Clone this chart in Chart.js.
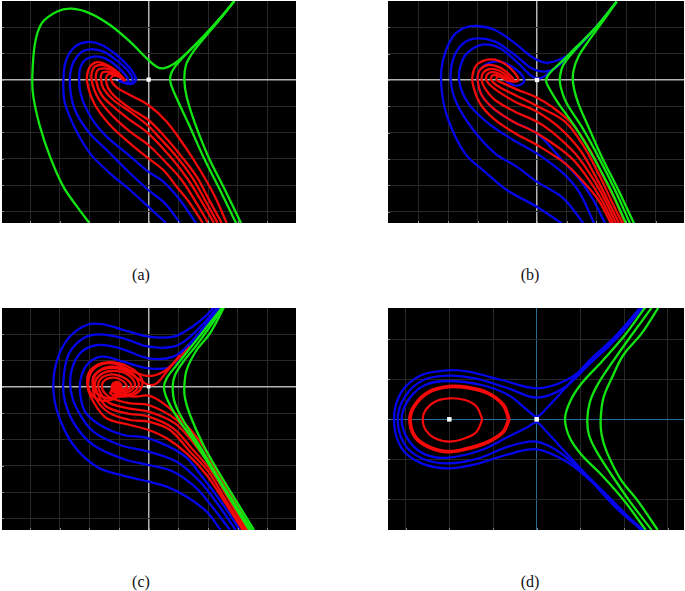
<!DOCTYPE html>
<html>
<head>
<meta charset="utf-8">
<title>Phase portraits</title>
<script src="https://cdn.jsdelivr.net/npm/chart.js@4/dist/chart.umd.min.js"></script>
<style>
    html, body { margin: 0; padding: 0; background: #fff; }
    .panel { position: absolute; filter: blur(0.5px); }
    .caption { position: absolute; width: 60px; text-align: center; font: 16px "Liberation Serif", serif; color: #111; }
</style>
</head>
<body>
<canvas id="panelA" class="panel" style="left:2px;top:1px" width="294" height="222"></canvas>
<canvas id="panelB" class="panel" style="left:388px;top:1px" width="296" height="222"></canvas>
<canvas id="panelC" class="panel" style="left:2px;top:308px" width="294" height="222"></canvas>
<canvas id="panelD" class="panel" style="left:388px;top:308px" width="296" height="222"></canvas>
<div class="caption" style="left:111px;top:266px">(a)</div>
<div class="caption" style="left:500px;top:266px">(b)</div>
<div class="caption" style="left:111px;top:573px">(c)</div>
<div class="caption" style="left:500px;top:573px">(d)</div>
<script>
// grid values, the saddle point is the origin of every panel
const stepTicksX = [-356, -267, -178, -89, 0, 89, 178, 267, 356];
const stepTicksY = [-395, -316, -237, -158, -79, 0, 79, 158];
const dTicksX = [-393, -262, -131, 0, 131, 262, 393];
const dTicksY = [-240, -120, 0, 120, 240];

// panel (a)
const aGreen = [
    [[-178,-430],[-211,-386],[-256,-321],[-296,-231],[-326,-141],[-346,-51],[-349,9],[-341,109],[-321,169],[-276,204],[-231,213],[-176,199],[-116,164],[-56,114],[-6,64],[24,39],[44,34],[74,46],[114,79],[164,129],[214,184],[257,236]],
    [[262,-430],[214,-331],[164,-231],[119,-131],[84,-56],[66,-11],[66,14],[79,39],[114,79],[164,129],[214,184],[257,236]],
    [[277,-430],[229,-331],[179,-231],[139,-131],[114,-51],[107,-1],[112,44],[134,84],[174,134],[219,187],[257,236]]
];
const aRed = [
    [[162,-430],[124,-371],[84,-321],[44,-271],[-1,-236],[-56,-191],[-116,-136],[-161,-76],[-184,-11],[-181,29],[-161,51],[-136,49],[-101,29],[-71,-1]],
    [[179,-430],[144,-371],[99,-301],[54,-251],[-1,-196],[-56,-156],[-106,-111],[-151,-56],[-171,-1],[-166,34],[-146,44],[-121,39],[-91,19],[-71,-3]],
    [[196,-430],[159,-366],[119,-301],[69,-236],[-1,-161],[-56,-121],[-106,-81],[-141,-46],[-158,-1],[-154,27],[-136,34],[-111,29],[-86,11],[-71,-3]],
    [[207,-430],[169,-361],[129,-291],[84,-231],[34,-176],[-1,-139],[-56,-96],[-106,-61],[-136,-26],[-143,-1],[-141,19],[-126,24],[-101,19],[-81,7],[-71,-3]],
    [[219,-430],[179,-356],[144,-291],[99,-231],[44,-166],[-1,-121],[-56,-86],[-101,-51],[-121,-26],[-128,-1],[-124,14],[-111,17],[-91,11],[-71,-3]],
    [[234,-430],[199,-351],[154,-271],[109,-201],[54,-126],[-1,-76],[-56,-46],[-96,-23],[-113,-1],[-108,11],[-96,11],[-81,4],[-71,-4]]
];
const aBlue = [
    [[52,-430],[-1,-381],[-56,-331],[-116,-281],[-176,-221],[-221,-146],[-251,-71],[-256,-11],[-249,54],[-221,99],[-181,113],[-141,104],[-96,74],[-56,34],[-38,1],[-51,-13],[-76,-9],[-94,-1]],
    [[94,-430],[49,-371],[-1,-331],[-66,-271],[-126,-211],[-181,-156],[-221,-91],[-236,-21],[-231,39],[-206,79],[-176,91],[-136,84],[-91,54],[-56,19],[-48,-6],[-66,-11],[-86,-3]],
    [[142,-430],[94,-361],[44,-306],[-1,-276],[-66,-221],[-126,-171],[-171,-116],[-203,-46],[-208,19],[-196,54],[-166,69],[-131,64],[-96,41],[-66,9],[-61,-9],[-81,-6]]
];
const aPoints = [[0, 0], [-94, -1]];

// panel (b)
const bGreen = [
    [[267,-430],[224,-335],[174,-240],[114,-140],[64,-70],[34,-20],[27,0],[39,22],[74,55],[119,100],[174,155],[239,235]],
    [[279,-430],[234,-330],[184,-230],[134,-140],[89,-70],[71,-20],[69,10],[79,45],[114,90],[174,155],[239,235]],
    [[291,-430],[244,-330],[194,-230],[154,-140],[124,-70],[109,-15],[109,25],[124,70],[164,130],[204,185],[239,235]]
];
const bRed = [
    [[222,-430],[184,-360],[134,-300],[84,-250],[0,-195],[-66,-160],[-131,-115],[-171,-70],[-193,-10],[-191,25],[-176,50],[-136,62],[-96,48],[-66,20],[-56,0],[-71,-5],[-91,0]],
    [[229,-430],[194,-360],[149,-290],[99,-230],[0,-160],[-71,-125],[-131,-85],[-166,-45],[-178,0],[-173,28],[-146,45],[-111,37],[-81,15],[-71,0],[-86,-3]],
    [[237,-430],[204,-360],[164,-290],[114,-220],[44,-155],[0,-125],[-66,-95],[-126,-60],[-156,-25],[-166,0],[-161,22],[-141,33],[-111,27],[-86,10],[-78,0],[-91,-2]],
    [[246,-430],[212,-360],[176,-290],[129,-210],[64,-140],[0,-95],[-66,-65],[-116,-35],[-146,-10],[-153,5],[-146,20],[-126,23],[-106,15],[-86,2],[-94,-2]],
    [[256,-430],[222,-360],[189,-290],[144,-205],[84,-125],[0,-78],[-56,-50],[-106,-25],[-131,-8],[-138,8],[-128,15],[-111,10],[-91,0]],
    [[264,-430],[234,-360],[199,-290],[159,-210],[104,-130],[44,-80],[0,-53],[-61,-28],[-101,-10],[-121,0],[-118,10],[-104,8],[-91,0]]
];
const bBlue = [
    [[74,-430],[-1,-380],[-91,-330],[-151,-280],[-216,-220],[-266,-120],[-286,-30],[-284,50],[-256,125],[-221,155],[-181,162],[-126,150],[-66,110],[-16,70],[24,52],[64,60],[114,90],[174,155],[239,235]],
    [[139,-430],[79,-355],[-1,-305],[-61,-260],[-126,-220],[-191,-150],[-241,-70],[-259,0],[-251,65],[-221,110],[-181,125],[-126,115],[-66,75],[-16,35],[19,25],[54,35],[104,80],[174,155],[239,235]],
    [[171,-430],[129,-340],[79,-280],[-1,-220],[-71,-180],[-146,-130],[-206,-70],[-234,0],[-221,65],[-191,95],[-156,107],[-111,95],[-56,50],[-16,12],[9,5],[34,20],[74,55],[119,100],[174,155],[239,235]],
    [[204,-430],[169,-360],[129,-300],[84,-250],[0,-160],[-71,-125],[-131,-85],[-166,-45],[-178,0],[-173,28],[-146,50],[-111,55],[-61,30],[-38,0],[-51,-15],[-71,-15],[-94,-2]]
];
const bPoints = [[0, 0]];

// panel (c)
const cGreen = [
    [[302,-430],[249,-345],[194,-255],[144,-175],[94,-105],[59,-45],[46,-5],[54,25],[84,65],[124,115],[179,185],[224,242]],
    [[309,-430],[254,-345],[204,-265],[154,-180],[109,-110],[79,-50],[72,0],[79,35],[104,75],[144,125],[184,180],[226,242]],
    [[316,-430],[264,-345],[209,-255],[164,-175],[124,-85],[109,-35],[107,0],[114,50],[144,110],[184,160],[228,242]]
];
const cRed = [
    [[124,120],[84,80],[44,45],[0,32],[-46,45],[-106,70],[-156,60],[-181,20],[-172,-22],[-140,-42],[-100,-35],[-85,-15],[-96,0]],
    [[94,95],[54,45],[24,10],[0,5],[-26,20],[-76,50],[-126,55],[-166,30],[-160,-15],[-130,-33],[-100,-28],[-96,-8]],
    [[282,-430],[234,-355],[174,-265],[114,-200],[54,-155],[0,-130],[-56,-115],[-126,-95],[-166,-45],[-184,5],[-174,50],[-126,73],[-61,60],[-20,22],[-30,-15],[-75,-30],[-115,-20],[-100,-5]],
    [[287,-430],[234,-345],[179,-255],[124,-195],[64,-130],[0,-105],[-56,-100],[-116,-80],[-156,-40],[-168,5],[-156,40],[-116,60],[-61,47],[-30,12],[-42,-15],[-80,-25],[-112,-10],[-96,0]],
    [[292,-430],[244,-345],[189,-255],[129,-185],[74,-125],[0,-90],[-66,-80],[-126,-60],[-151,-25],[-161,10],[-146,35],[-111,47],[-66,38],[-41,8],[-55,-13],[-90,-20],[-108,-5]],
    [[296,-430],[249,-345],[194,-250],[139,-175],[79,-110],[0,-75],[-61,-65],[-116,-50],[-144,-20],[-151,10],[-136,30],[-106,37],[-71,25],[-52,3],[-70,-12],[-100,-13]],
    [[299,-430],[254,-345],[199,-250],[144,-170],[84,-100],[0,-55],[-56,-50],[-111,-35],[-138,-10],[-136,15],[-106,27],[-75,15],[-66,-3],[-90,-10]],
    [[304,-430],[259,-345],[204,-250],[154,-165],[94,-95],[44,-50],[0,-27],[-46,-30],[-86,-22],[-106,-5]]
];
const cBlue = [
    [[216,-430],[174,-375],[114,-330],[54,-300],[0,-285],[-76,-267],[-156,-240],[-226,-175],[-271,-85],[-286,-5],[-276,75],[-241,145],[-186,185],[-136,187],[-76,170],[0,150],[74,150],[124,175],[169,210],[199,242]],
    [[244,-430],[194,-365],[144,-305],[74,-255],[0,-235],[-76,-217],[-166,-175],[-221,-115],[-251,-45],[-256,15],[-241,95],[-196,145],[-146,157],[-76,145],[0,120],[74,120],[119,145],[169,195],[209,242]],
    [[261,-430],[209,-355],[154,-285],[84,-225],[0,-195],[-86,-175],[-166,-135],[-211,-75],[-233,-15],[-231,50],[-201,105],[-151,125],[-86,115],[0,85],[74,90],[124,130],[174,190],[214,242]],
    [[274,-430],[224,-355],[164,-275],[104,-205],[0,-155],[-76,-145],[-146,-115],[-191,-75],[-206,-15],[-201,35],[-176,75],[-136,90],[-76,75],[0,55],[64,60],[114,115],[179,190],[219,242]]
];
const cPoints = [[0, 0]];
const cFocus = [[-96, 0]];

// panel (d)
const dGreen = [
    [[327,-332],[265,-247],[195,-167],[135,-107],[100,-57],[85,0],[100,53],[135,108],[195,173],[265,253],[327,338]],
    [[345,-332],[280,-247],[225,-167],[180,-97],[157,-47],[152,0],[160,53],[185,108],[235,183],[285,253],[345,335]],
    [[363,-332],[305,-247],[250,-177],[210,-97],[195,-47],[192,0],[200,63],[225,123],[260,193],[315,258],[365,335]]
];
const dRedOuter = [[[-83,0],[-100,43],[-145,78],[-205,95],[-265,98],[-325,81],[-365,43],[-380,0],[-365,-52],[-325,-82],[-265,-97],[-205,-87],[-145,-67],[-100,-37],[-83,0]]];
const dRedInner = [[[-163,0],[-180,38],[-215,58],[-262,63],[-305,53],[-333,28],[-342,0],[-333,-32],[-305,-57],[-262,-67],[-215,-57],[-180,-37],[-163,0]]];
const dBlue = [
    [[320,338],[245,248],[165,173],[90,118],[0,93],[-105,118],[-205,143],[-265,147],[-345,133],[-405,83],[-428,0],[-405,-87],[-345,-132],[-265,-147],[-185,-135],[-85,-105],[0,-90],[90,-127],[165,-187],[245,-267],[320,-332]],
    [[315,338],[240,248],[160,168],[80,93],[0,65],[-85,93],[-185,123],[-265,131],[-340,118],[-395,68],[-417,0],[-395,-77],[-340,-119],[-265,-132],[-175,-117],[-85,-82],[0,-67],[80,-107],[160,-182],[240,-267],[315,-332]],
    [[313,338],[235,248],[155,173],[85,93],[25,28],[0,8],[-25,25],[-85,73],[-165,103],[-265,115],[-335,103],[-385,58],[-405,0],[-385,-62],[-335,-105],[-265,-115],[-165,-92],[-85,-52],[-25,-22],[0,-9],[25,-32],[85,-97],[155,-172],[235,-252],[313,-332]]
];
const dPoints = [[-262, 0], [0, 0]];

const GREEN = '#12e612';
const RED = '#f50a0a';
const BLUE = '#0505eb';

function toXY(pairs) {
    return pairs.map(p => ({ x: p[0], y: p[1] }));
}

function curves(list, color, width) {
    return list.map(c => ({
        data: toXY(c),
        showLine: true,
        borderColor: color,
        borderWidth: width,
        pointRadius: 0,
        tension: 0.35,
        fill: false
    }));
}

function dots(pairs, color, size, style) {
    return {
        data: toXY(pairs),
        showLine: false,
        pointStyle: style,
        pointRadius: size,
        pointBackgroundColor: color,
        pointBorderWidth: 0
    };
}

// small marks on the left and bottom edge of the frame
const edgeTicks = {
    id: 'edgeTicks',
    afterDraw(chart) {
        const ctx = chart.ctx;
        const area = chart.chartArea;
        ctx.save();
        ctx.strokeStyle = '#8a8a8a';
        ctx.lineWidth = 1;
        ctx.beginPath();
        chart.scales.x.ticks.forEach(t => {
            const px = Math.round(chart.scales.x.getPixelForValue(t.value)) + 0.5;
            ctx.moveTo(px, area.bottom);
            ctx.lineTo(px, area.bottom - 2);
        });
        chart.scales.y.ticks.forEach(t => {
            const py = Math.round(chart.scales.y.getPixelForValue(t.value)) + 0.5;
            ctx.moveTo(area.left, py);
            ctx.lineTo(area.left + 2, py);
        });
        ctx.stroke();
        ctx.restore();
    }
};

function axis(range, ticks, zeroColor, zeroWidth) {
    return {
        type: 'linear',
        min: range[0],
        max: range[1],
        border: { display: false },
        grid: {
            drawTicks: false,
            color: c => (c.tick && c.tick.value === 0 ? zeroColor : '#282828'),
            lineWidth: c => (c.tick && c.tick.value === 0 ? zeroWidth : 1)
        },
        ticks: { display: false },
        afterBuildTicks: s => { s.ticks = ticks.map(v => ({ value: v })); }
    };
}

// first dataset in the list is painted last, so it lands on top
function drawPanel(id, xRange, yRange, xTicks, yTicks, zeroColor, zeroWidth, datasets) {
    new Chart(document.getElementById(id), {
        type: 'scatter',
        data: { datasets: datasets },
        options: {
            responsive: false,
            animation: false,
            layout: { padding: 0, autoPadding: false },
            plugins: { legend: { display: false }, tooltip: { enabled: false } },
            scales: {
                x: axis(xRange, xTicks, zeroColor, zeroWidth),
                y: axis(yRange, yTicks, zeroColor, zeroWidth)
            }
        },
        plugins: [
            edgeTicks,
            { id: 'blackBack', beforeDraw(ch) { ch.ctx.fillStyle = '#000'; ch.ctx.fillRect(0, 0, ch.width, ch.height); } }
        ]
    });
}

drawPanel('panelA', [-440, 442], [-430, 236], stepTicksX, stepTicksY, '#b4b4b4', 1.5, [
    dots([aPoints[0]], '#fff', 3, 'rect'),
    dots([aPoints[1]], '#fff', 1.2, 'rect'),
    ...curves(aGreen, GREEN, 2.3),
    ...curves(aRed, RED, 2.3),
    ...curves(aBlue, BLUE, 2.3)
]);

drawPanel('panelB', [-447, 441], [-429, 237], stepTicksX, stepTicksY, '#b4b4b4', 1.5, [
    dots(bPoints, '#fff', 3, 'rect'),
    ...curves(bGreen, GREEN, 2.3),
    ...curves(bRed, RED, 2.3),
    ...curves(bBlue, BLUE, 2.3)
]);

drawPanel('panelC', [-440, 442], [-430, 236], stepTicksX, stepTicksY, '#b4b4b4', 1.5, [
    dots(cPoints, '#fff', 2.5, 'rect'),
    ...curves(cGreen, GREEN, 2.3),
    dots(cFocus, RED, 6, 'circle'),
    ...curves(cRed, RED, 2.3),
    ...curves(cBlue, BLUE, 2.3)
]);

drawPanel('panelD', [-446, 442], [-332, 334], dTicksX, dTicksY, '#2a6c94', 1, [
    dots(dPoints, '#fff', 3.2, 'rect'),
    ...curves(dGreen, GREEN, 2.3),
    ...curves(dBlue, BLUE, 2.3),
    ...curves(dRedOuter, RED, 3.8),
    ...curves(dRedInner, RED, 2.2)
]);
</script>
</body>
</html>
